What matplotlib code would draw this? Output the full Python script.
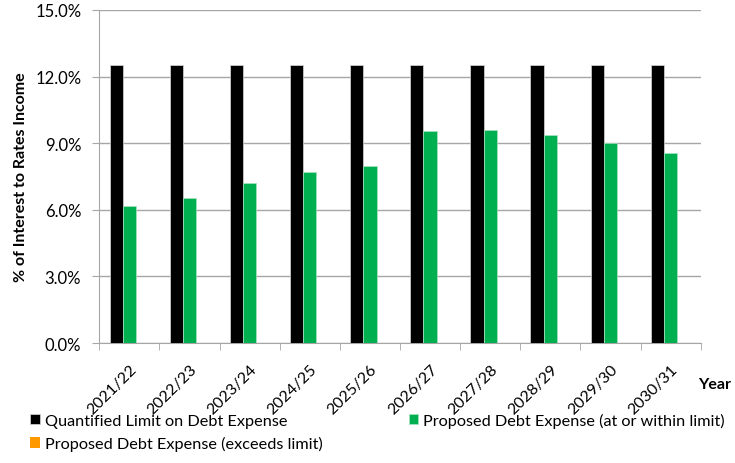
import matplotlib.pyplot as plt
import matplotlib.transforms as mtransforms
import numpy as np
from matplotlib.ticker import FuncFormatter, FixedLocator

years = ['2021/22', '2022/23', '2023/24', '2024/25', '2025/26',
         '2026/27', '2027/28', '2028/29', '2029/30', '2030/31']
limit = [12.5, 12.5, 12.5, 12.5, 12.5, 12.5, 12.5, 12.5, 12.5, 12.5]
within = [6.15, 6.54, 7.22, 7.69, 7.98, 9.53, 9.59, 9.39, 9.02, 8.57]
exceeds = [0, 0, 0, 0, 0, 0, 0, 0, 0, 0]

plt.rcParams['font.family'] = ['Lato', 'DejaVu Sans']

fig = plt.figure(figsize=(7.35, 4.64), dpi=100)
ax = fig.add_axes([0.1351, 0.2586, 0.8182, 0.7177])

x = np.arange(len(years))
w = 0.22
b1 = ax.bar(x - w, limit, w, color='black', edgecolor='#d9d9d9', linewidth=0.5,
            label='Quantified Limit on Debt Expense', zorder=3)
b2 = ax.bar(x, within, w, color='#00b050', edgecolor='#a6e3bf', linewidth=0.5,
            label='Proposed Debt Expense (at or within limit)', zorder=3)
b3 = ax.bar(x + w, exceeds, w, color='#ff9900', linewidth=0,
            label='Proposed Debt Expense (exceeds limit)', zorder=3)

ax.set_xlim(-0.5, len(years) - 0.5)
ax.set_ylim(0, 15)
ax.set_yticks([0, 3, 6, 9, 12, 15])
ax.yaxis.set_major_formatter(FuncFormatter(lambda v, p: f'{v:.1f}%'))
ax.grid(axis='y', color='#a6a6a6', linewidth=1, zorder=0)

ax.set_xticks(x)
ax.set_xticklabels(years, rotation=45, ha='right', rotation_mode='anchor', fontsize=11.5)
shift = mtransforms.ScaledTranslation(-4 / 100, 0, fig.dpi_scale_trans)
for lab in ax.get_xticklabels():
    lab.set_transform(lab.get_transform() + shift)
ax.xaxis.set_minor_locator(FixedLocator(np.arange(-0.5, len(years), 1)))
ax.tick_params(axis='x', which='major', length=0, pad=13.5)
ax.tick_params(axis='x', which='minor', length=5, color='#a6a6a6')
ax.tick_params(axis='y', length=5, color='#a6a6a6', labelsize=12, pad=8)

for s in ['top', 'right']:
    ax.spines[s].set_visible(False)
for s in ['left', 'bottom']:
    ax.spines[s].set_color('#a6a6a6')

ax.set_ylabel('% of Interest to Rates Income', fontsize=11.5, fontweight='bold', labelpad=5)
fig.text(0.950, 0.170, 'Year', fontsize=11.5, fontweight='bold', ha='left', va='center')

# matplotlib fills legend columns first, so order for row-wise look
fig.legend([b1, b3, b2],
           ['Quantified Limit on Debt Expense', 'Proposed Debt Expense (exceeds limit)',
            'Proposed Debt Expense (at or within limit)'],
           loc='upper left', bbox_to_anchor=(0.041, 0.108), ncol=2, frameon=False,
           fontsize=11.7, handlelength=0.6, handleheight=0.6, handletextpad=0.3,
           columnspacing=5.3, labelspacing=0.5, borderaxespad=0, borderpad=0)

fig.savefig('out.png', dpi=100)
